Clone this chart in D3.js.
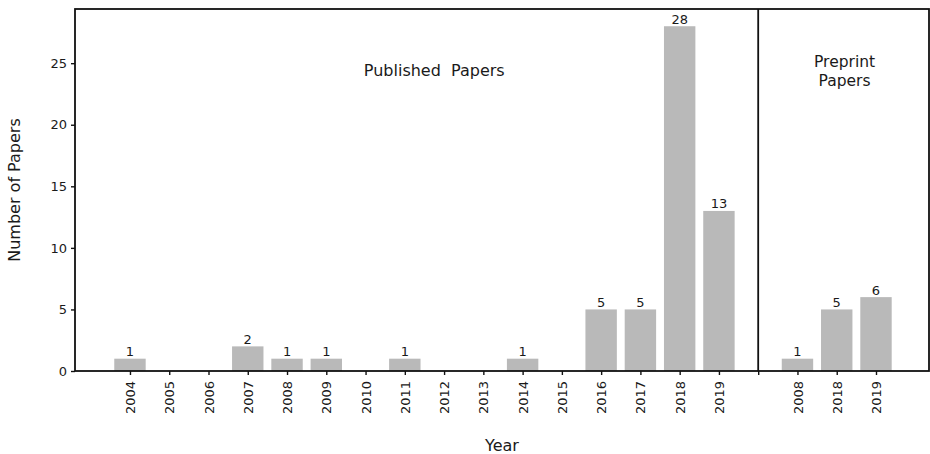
<!DOCTYPE html>
<html><head><meta charset="utf-8">
<script src="https://cdn.jsdelivr.net/npm/d3@7"></script>
<style>body{margin:0;background:#fff}svg{display:block}text{font-family:"DejaVu Sans",sans-serif;fill:#1a1a1a}</style>
</head><body>
<svg id="c" width="930" height="454"></svg>
<script>
const publishedYears = ["2004","2005","2006","2007","2008","2009","2010","2011","2012","2013","2014","2015","2016","2017","2018","2019"];
const publishedValues = [1,0,0,2,1,1,0,1,0,0,1,0,5,5,28,13];
const preprintYears = ["2008","2018","2019"];
const preprintValues = [1,5,6];
const yTicks = [0,5,10,15,20,25];

(function(){
const svg = d3.select("#c");
const mL = 75, mR = 929, mT = 9, mB = 371;

const items = [];
publishedYears.forEach((yr,i)=>items.push({label:yr,value:publishedValues[i],idx:i}));
const divIdx = publishedYears.length;
preprintYears.forEach((yr,i)=>items.push({label:yr,value:preprintValues[i],idx:divIdx+1+i}));

const x = d3.scaleLinear().domain([-1.4, divIdx+preprintYears.length+1.35]).range([mL,mR]);
const y = d3.scaleLinear().domain([0,29.4]).range([mB,mT]);
const bw = x(0.8)-x(0);

svg.append("g").selectAll("rect").data(items.filter(d=>d.value>0)).join("rect")
  .attr("x",d=>x(d.idx)-bw/2).attr("width",bw)
  .attr("y",d=>y(d.value)).attr("height",d=>y(0)-y(d.value))
  .attr("fill","#b9b9b9");

svg.append("g").selectAll("text").data(items.filter(d=>d.value>0)).join("text")
  .attr("x",d=>x(d.idx)).attr("y",d=>y(d.value)-2.5)
  .attr("text-anchor","middle").attr("font-size","13px").text(d=>d.value);

const yAxis = svg.append("g").attr("transform",`translate(${mL},0)`)
  .call(d3.axisLeft(y).tickValues(yTicks).tickSize(4).tickPadding(4));
yAxis.select(".domain").remove();
yAxis.selectAll("line").attr("stroke","#111").attr("stroke-width",1.4);
yAxis.selectAll("text").attr("font-size","13px").attr("font-family","DejaVu Sans").attr("fill","#1a1a1a");

const tickIdx = items.map(d=>d.idx).concat([divIdx]);
const labelMap = {}; items.forEach(d=>labelMap[d.idx]=d.label);
const xAxis = svg.append("g").attr("transform",`translate(0,${mB})`)
  .call(d3.axisBottom(x).tickValues(tickIdx).tickSize(4).tickPadding(4).tickFormat(d=>labelMap[d]||""));
xAxis.select(".domain").remove();
xAxis.selectAll("line").attr("stroke","#111").attr("stroke-width",1.4);
xAxis.selectAll("text").attr("font-size","13px").attr("font-family","DejaVu Sans").attr("fill","#1a1a1a")
  .attr("transform","rotate(-90)").attr("text-anchor","end").attr("dy","0.35em")
  .attr("x",-10).attr("y",0);

svg.append("rect").attr("x",mL).attr("y",mT).attr("width",mR-mL).attr("height",mB-mT)
  .attr("fill","none").attr("stroke","#111").attr("stroke-width",1.8);
svg.append("line").attr("x1",x(divIdx)).attr("x2",x(divIdx)).attr("y1",mT).attr("y2",mB)
  .attr("stroke","#111").attr("stroke-width",1.8);

svg.append("text").attr("x",x(7.75)).attr("y",76).attr("text-anchor","middle").attr("font-size","16px")
  .attr("xml:space","preserve").style("white-space","pre").text("Published  Papers");
const px = x(divIdx+2.2);
svg.append("text").attr("x",px).attr("y",67).attr("text-anchor","middle").attr("font-size","15.5px").text("Preprint");
svg.append("text").attr("x",px).attr("y",85.5).attr("text-anchor","middle").attr("font-size","15.5px").text("Papers");

svg.append("text").attr("x",502).attr("y",451).attr("text-anchor","middle").attr("font-size","16px").text("Year");
svg.append("text").attr("transform",`translate(20,${(mT+mB)/2}) rotate(-90)`).attr("text-anchor","middle").attr("font-size","16px").text("Number of Papers");
})();
</script>
</body></html>
